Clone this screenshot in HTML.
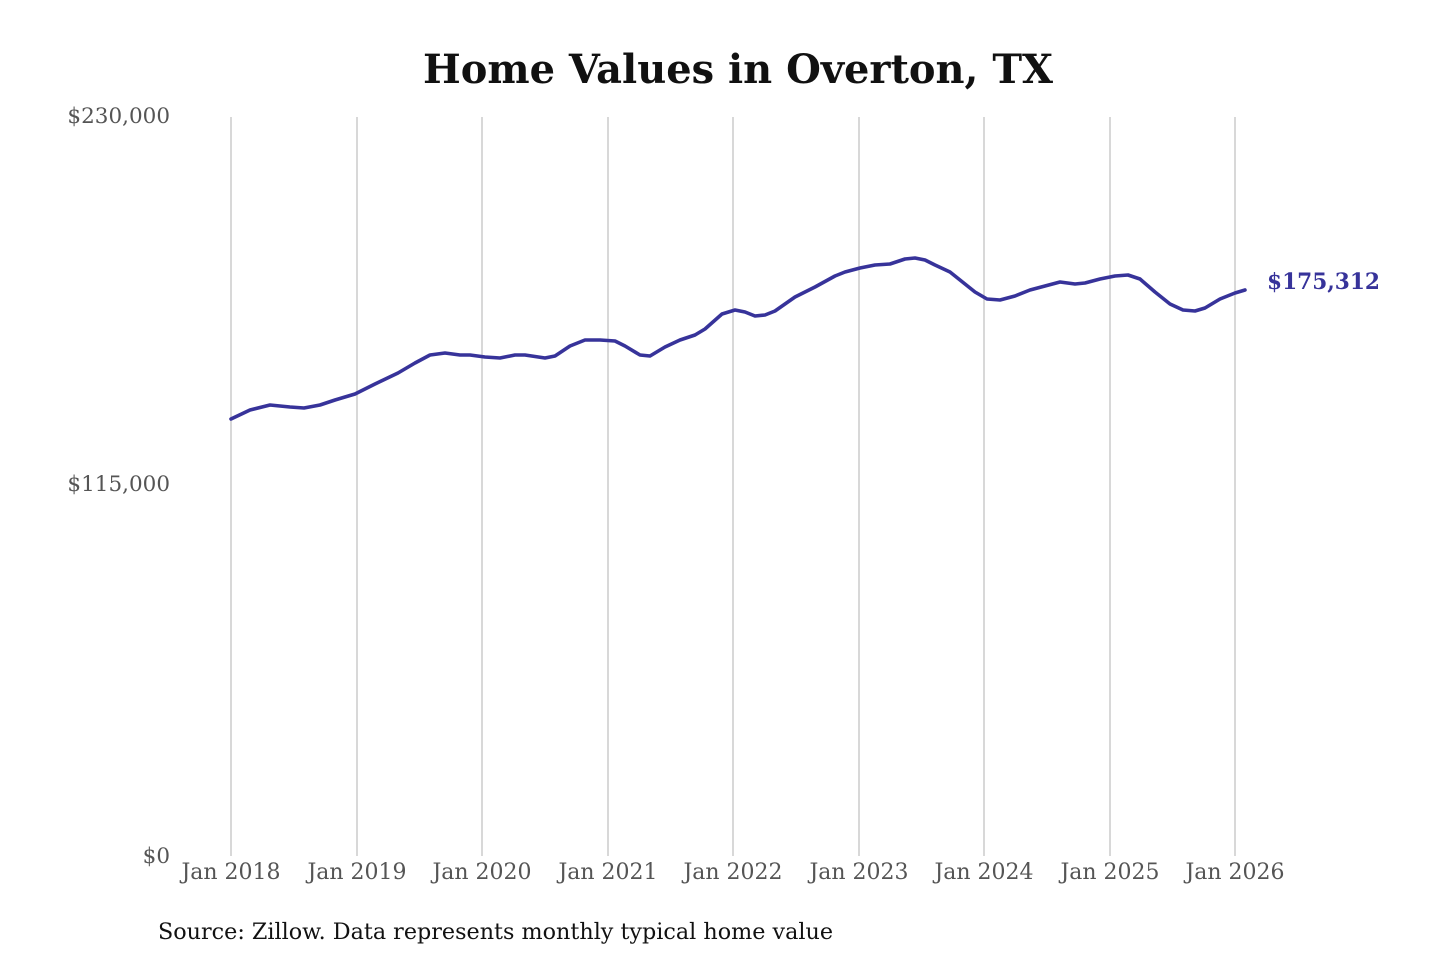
<!DOCTYPE html>
<html><head><meta charset="utf-8"><style>
html,body{margin:0;padding:0;background:#fff;}
svg{display:block;}
</style></head><body>
<svg width="1440" height="960" xmlns="http://www.w3.org/2000/svg" font-family="'DejaVu Serif','Liberation Serif',serif">
<text x="738" y="83" text-anchor="middle" font-size="40" font-weight="bold" fill="#111" textLength="630" lengthAdjust="spacingAndGlyphs">Home Values in Overton, TX</text>
<g stroke="#c4c4c4" stroke-width="1.3">
<line x1="231" y1="117" x2="231" y2="856"/><line x1="357" y1="117" x2="357" y2="856"/>
<line x1="482" y1="117" x2="482" y2="856"/><line x1="608" y1="117" x2="608" y2="856"/>
<line x1="733" y1="117" x2="733" y2="856"/><line x1="859" y1="117" x2="859" y2="856"/>
<line x1="984" y1="117" x2="984" y2="856"/><line x1="1110" y1="117" x2="1110" y2="856"/>
<line x1="1235" y1="117" x2="1235" y2="856"/>
</g>
<g font-size="21.5" fill="#555" text-anchor="end">
<text x="170" y="123">$230,000</text>
<text x="170" y="491">$115,000</text>
<text x="170" y="863">$0</text>
</g>
<g font-size="22" fill="#555" text-anchor="middle">
<text x="231" y="879">Jan 2018</text><text x="357" y="879">Jan 2019</text>
<text x="482" y="879">Jan 2020</text><text x="608" y="879">Jan 2021</text>
<text x="733" y="879">Jan 2022</text><text x="859" y="879">Jan 2023</text>
<text x="984" y="879">Jan 2024</text><text x="1110" y="879">Jan 2025</text>
<text x="1235" y="879">Jan 2026</text>
</g>
<polyline fill="none" stroke="#37339a" stroke-width="3.6" stroke-linejoin="round" stroke-linecap="round" points="231,419 250,410 270,405 290,407 304,408 320,405 335,400 355,394 375,384 398,373 415,363 430,355 445,353 460,355 470,355 485,357 500,358 515,355 525,355 545,358 555,356 570,346 585,340 600,340 615,341 625,346 640,355 650,356 665,347 680,340 695,335 705,329 722,314 735,310 745,312 755,316 765,315 775,311 795,297 815,287 835,276 845,272 860,268 875,265 890,264 905,259 915,258 925,260 935,265 950,272 960,280 975,292 987,299 1000,300 1015,296 1030,290 1045,286 1060,282 1075,284 1085,283 1100,279 1115,276 1128,275 1140,279 1155,292 1170,304 1183,310 1195,311 1205,308 1220,299 1235,293 1245,290"/>
<text x="1267" y="289" font-size="22" font-weight="bold" fill="#37339a" textLength="113" lengthAdjust="spacingAndGlyphs">$175,312</text>
<text x="158" y="939" font-size="22" fill="#111" textLength="675" lengthAdjust="spacingAndGlyphs">Source: Zillow. Data represents monthly typical home value</text>
</svg>
</body></html>
